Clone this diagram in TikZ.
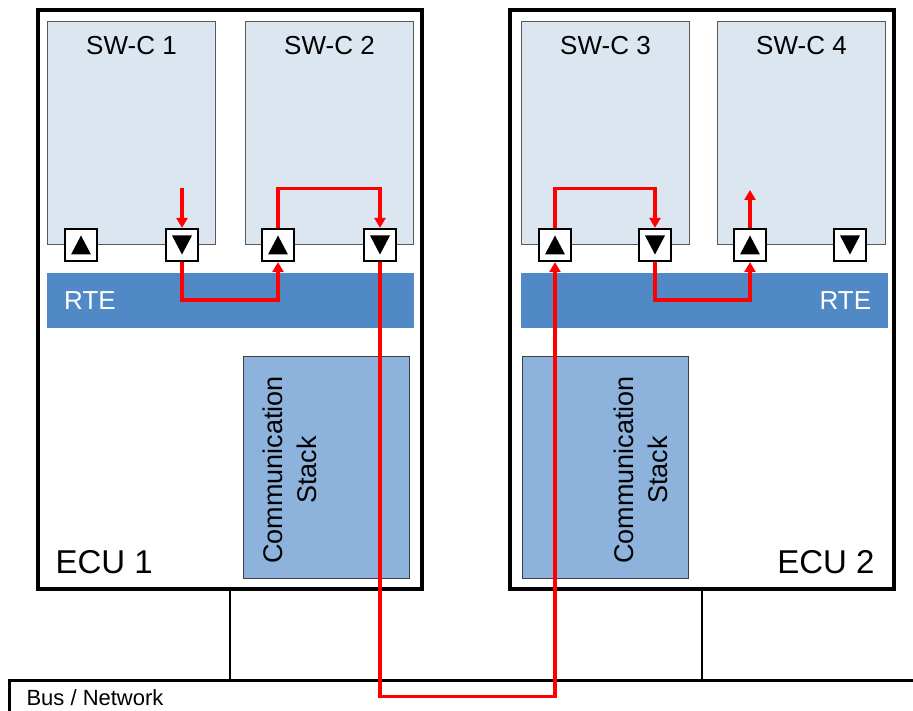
\documentclass[tikz,border=0pt]{standalone}
\usepackage{fontspec}
\setmainfont{Liberation Sans}
\usetikzlibrary{arrows.meta,positioning,calc}

\definecolor{swcFill}{RGB}{220,230,241}
\definecolor{rteFill}{RGB}{80,137,198}
\definecolor{csFill}{RGB}{141,178,219}

\newcommand{\swcFont}{\fontsize{26}{30}\selectfont}
\newcommand{\ecuFont}{\fontsize{33}{38}\selectfont}
\newcommand{\csFont}{\fontsize{27}{34}\selectfont}
\newcommand{\busFont}{\fontsize{22}{26}\selectfont}

\begin{document}
\begin{tikzpicture}[x=1pt,y=-1pt]
\tikzset{ecuBox/.style={draw,line width=4pt,minimum width=384pt,minimum height=579pt,anchor=north west}}
\tikzset{swcBox/.style={draw=black!65,fill=swcFill,line width=1pt,minimum width=168pt,minimum height=223pt,anchor=north west}}
\tikzset{rteBox/.style={fill=rteFill,minimum height=55pt,anchor=north west,text=white,font=\swcFont,inner xsep=17pt,inner ysep=0pt,text width=333pt}}
\tikzset{csBox/.style={draw=black!75,fill=csFill,line width=0.8pt,minimum width=166pt,minimum height=222pt,anchor=north west}}
\tikzset{csText/.style={rotate=90,align=center,font=\csFont}}
\tikzset{port/.style={draw,fill=white,line width=2.2pt,minimum size=32pt,inner sep=0pt}}
\tikzset{portUp/.style={port,path picture={\fill[black] ($(path picture bounding box.center)+(-10pt,-9.5pt)$) -- ++(20pt,0pt) -- ++(-10pt,19pt) -- cycle;}}}
\tikzset{portDown/.style={port,path picture={\fill[black] ($(path picture bounding box.center)+(-10pt,9.5pt)$) -- ++(20pt,0pt) -- ++(-10pt,-19pt) -- cycle;}}}
\tikzset{sig/.style={draw=red,line width=3.2pt,-{Triangle[length=10pt,width=11pt]}}}
\tikzset{busLine/.style={draw,line width=2.8pt}}

\useasboundingbox[fill=white] (0,0) rectangle (913,711);

% bus
\node[busLine,minimum width=1000pt,minimum height=60pt,anchor=north west] (bus) at (8,679) {};
\node[font=\busFont,anchor=base west] (busLbl) at (23,705) {Bus / Network};

% ECU 1
\node[ecuBox,label={[font=\ecuFont,anchor=base west,xshift=16pt,yshift=18pt]south west:ECU 1}] (ecu1) at (36,8) {};
\node[swcBox,label={[font=\swcFont,anchor=base,yshift=-34pt]north:SW-C 1}] (swc1) at (47,21) {};
\node[swcBox,label={[font=\swcFont,anchor=base,yshift=-34pt]north:SW-C 2}] (swc2) at (245,21) {};
\node[rteBox,align=left] (rte1) at (47,273) {RTE};
\node[csBox] (cs1) at (243,356) {};
\node[csText] (cs1txt) at (290,470) {Communication\\Stack};

% ECU 2
\node[ecuBox,label={[font=\ecuFont,anchor=base east,xshift=-18pt,yshift=18pt]south east:ECU 2}] (ecu2) at (508,8) {};
\node[swcBox,label={[font=\swcFont,anchor=base,yshift=-34pt]north:SW-C 3}] (swc3) at (521,21) {};
\node[swcBox,label={[font=\swcFont,anchor=base,yshift=-34pt]north:SW-C 4}] (swc4) at (717,21) {};
\node[rteBox,align=right] (rte2) at (521,273) {RTE};
\node[csBox] (cs2) at (522,356) {};
\node[csText] (cs2txt) at (641,470) {Communication\\Stack};

% ECUs on the bus
\draw[busLine] (ecu1.south) -- (ecu1.south |- bus.north);
\draw[busLine] (ecu2.south) -- (ecu2.south |- bus.north);

% ports
\node[portUp] (swc1p1) at (81,245) {};
\node[portDown] (swc1p2) at (182,245) {};
\node[portUp] (swc2p1) at (278,245) {};
\node[portDown] (swc2p2) at (380,245) {};
\node[portUp] (swc3p1) at (555,245) {};
\node[portDown] (swc3p2) at (655,245) {};
\node[portUp] (swc4p1) at (750,245) {};
\node[portDown] (swc4p2) at (850,245) {};

\coordinate (in1) at (182,188);
\coordinate (out4) at (750,190);

% signal path
\draw[sig] (in1) -- (swc1p2.north);
\draw[sig] (swc1p2.south) -- ++(0,38) -| (swc2p1.south);
\draw[sig] (swc2p1.north) -- ++(0,-39) -| (swc2p2.north);
\draw[sig] (swc2p2.south) -- ++(0,434) -| (swc3p1.south);
\draw[sig] (swc3p1.north) -- ++(0,-39) -| (swc3p2.north);
\draw[sig] (swc3p2.south) -- ++(0,38) -| (swc4p1.south);
\draw[sig] (swc4p1.north) -- (out4);
\end{tikzpicture}
\end{document}
